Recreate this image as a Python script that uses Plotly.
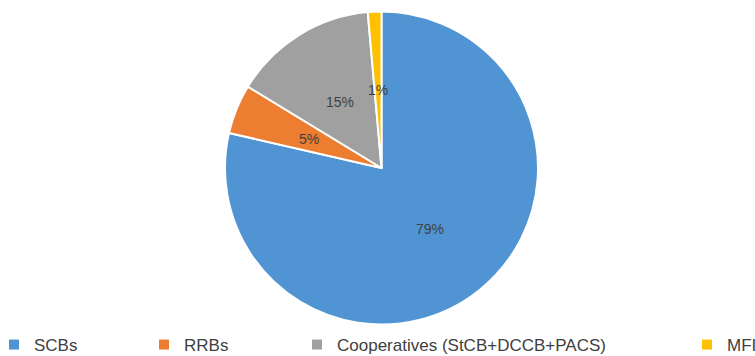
import math
import plotly.graph_objects as go

# ---- data ----
categories = ["SCBs", "RRBs", "Cooperatives (StCB+DCCB+PACS)", "MFI"]
shares = [78.6, 5.1, 14.9, 1.4]
colors = ["#5094D3", "#ED7D31", "#A0A0A0", "#FFC000"]

# legend placement (px of the left edge of each legend item)
legend_item_px = [-6, 144, 297, 687]

W, H = 755, 356
FONT = "Arial, Liberation Sans, sans-serif"
TXT = "#404040"

# pie geometry in px
cx, cy, r = 381.5, 168.0, 156.5

fig = go.Figure()
fig.add_trace(go.Pie(
    labels=categories,
    values=shares,
    sort=False,
    direction="clockwise",
    rotation=0,
    marker=dict(colors=colors, line=dict(color="white", width=2)),
    textinfo="none",
    showlegend=False,
    hoverinfo="label+percent",
    domain=dict(x=[(cx - r) / W, (cx + r) / W], y=[1 - (cy + r) / H, 1 - (cy - r) / H]),
))

# data labels at half radius, at each slice's mid angle (clockwise from 12 o'clock)
total = sum(shares)
cum = 0.0
annotations = []
for v in shares:
    mid = (cum + v / 2) / total * 2 * math.pi
    cum += v
    px = cx + 0.5 * r * math.sin(mid)
    py = cy - 0.5 * r * math.cos(mid)
    annotations.append(dict(
        x=px / W, y=1 - py / H, xref="paper", yref="paper",
        text=f"{round(v / total * 100):d}%", showarrow=False,
        xanchor="center", yanchor="middle",
        font=dict(family=FONT, size=14, color=TXT),
    ))

legend_names = ["legend", "legend2", "legend3", "legend4"]
for cat, col, lg in zip(categories, colors, legend_names):
    fig.add_trace(go.Scatter(
        x=[None], y=[None], mode="markers", name=cat,
        marker=dict(symbol="square", size=10, color=col),
        legend=lg, showlegend=True, hoverinfo="skip",
    ))

legend_layout = {}
for lg, px in zip(legend_names, legend_item_px):
    legend_layout[lg] = dict(
        x=px / W, xanchor="left", xref="paper",
        y=1 - 345 / H, yanchor="middle", yref="paper",
        orientation="h", bgcolor="rgba(0,0,0,0)",
        font=dict(family=FONT, size=17, color=TXT),
    )

fig.update_layout(
    width=W, height=H,
    margin=dict(l=0, r=0, t=0, b=0, pad=0, autoexpand=False),
    paper_bgcolor="white", plot_bgcolor="white",
    xaxis=dict(visible=False), yaxis=dict(visible=False),
    annotations=annotations,
    showlegend=True,
    **legend_layout,
)

fig.write_html("out.html")
